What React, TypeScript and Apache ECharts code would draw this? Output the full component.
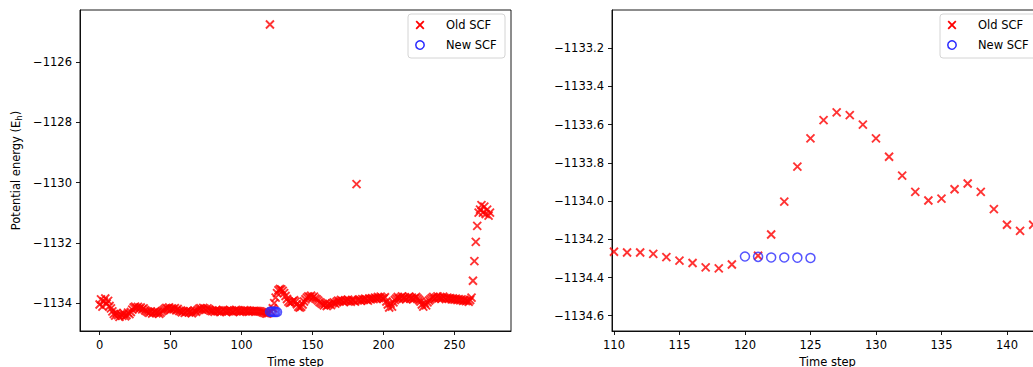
import React, { useEffect, useRef } from "react";
import * as echarts from "echarts";

// Old SCF potential energy, index = time step (0..275)
const oldSCF: number[] = [
  // 0-8
  -1134.05, -1133.88, -1134.12, -1133.95, -1133.85, -1134.02, -1133.93, -1134.10, -1134.18,
  // 9-22
  -1134.28, -1134.36, -1134.42, -1134.33, -1134.40, -1134.46, -1134.38, -1134.43, -1134.35, -1134.44, -1134.40, -1134.32, -1134.37, -1134.30,
  // 23-33
  -1134.22, -1134.15, -1134.12, -1134.17, -1134.13, -1134.19, -1134.15, -1134.21, -1134.18, -1134.24, -1134.27,
  // 34-45
  -1134.30, -1134.33, -1134.28, -1134.35, -1134.31, -1134.29, -1134.34, -1134.30, -1134.36, -1134.32, -1134.27, -1134.24,
  // 46-56
  -1134.20, -1134.16, -1134.19, -1134.15, -1134.22, -1134.18, -1134.21, -1134.17, -1134.24, -1134.20, -1134.26,
  // 57-69
  -1134.28, -1134.31, -1134.27, -1134.33, -1134.29, -1134.25, -1134.32, -1134.28, -1134.34, -1134.30, -1134.26, -1134.29, -1134.24,
  // 70-79
  -1134.20, -1134.17, -1134.22, -1134.16, -1134.19, -1134.23, -1134.18, -1134.21, -1134.25, -1134.27,
  // 80-109
  -1134.26, -1134.29, -1134.24, -1134.28, -1134.25, -1134.30, -1134.27, -1134.23, -1134.26, -1134.29,
  -1134.25, -1134.28, -1134.24, -1134.27, -1134.30, -1134.26, -1134.23, -1134.27, -1134.25, -1134.29,
  -1134.26, -1134.28, -1134.24, -1134.27, -1134.25, -1134.29, -1134.26, -1134.28, -1134.27, -1134.26,
  // 110-119
  -1134.265, -1134.269, -1134.269, -1134.276, -1134.293, -1134.312, -1134.324, -1134.347, -1134.352, -1134.332,
  // 120
  -1124.75,
  // 121-142
  -1134.286, -1134.175, -1134.003, -1133.82, -1133.672, -1133.576, -1133.536, -1133.55, -1133.6, -1133.672, -1133.768,
  -1133.867, -1133.952, -1133.997, -1133.987, -1133.938, -1133.908, -1133.952, -1134.042, -1134.124, -1134.156, -1134.124,
  // 143-155
  -1134.05, -1133.95, -1133.88, -1133.82, -1133.78, -1133.80, -1133.76, -1133.82, -1133.79, -1133.85, -1133.88, -1133.92, -1133.97,
  // 156-166
  -1134.00, -1134.04, -1134.08, -1134.02, -1134.10, -1134.06, -1134.03, -1134.07, -1134.01, -1133.98, -1134.02,
  // 167-180
  -1133.96, -1133.92, -1133.95, -1133.90, -1133.93, -1133.97, -1133.91, -1133.94, -1133.89, -1133.93, -1133.96, -1133.90, -1133.92, -1133.95,
  // 181
  -1130.05,
  // 182-201
  -1133.91, -1133.88, -1133.93, -1133.87, -1133.90, -1133.86, -1133.89, -1133.92, -1133.85, -1133.88,
  -1133.84, -1133.87, -1133.82, -1133.86, -1133.80, -1133.84, -1133.79, -1133.83, -1133.86, -1133.81,
  // 202-209
  -1133.95, -1134.05, -1134.15, -1134.02, -1134.12, -1133.98, -1133.90, -1133.85,
  // 210-226
  -1133.80, -1133.86, -1133.82, -1133.78, -1133.85, -1133.81, -1133.88, -1133.83, -1133.79, -1133.86,
  -1133.82, -1133.87, -1133.84, -1133.80, -1133.85, -1133.90, -1133.95,
  // 227-233
  -1134.05, -1134.12, -1134.00, -1134.08, -1133.98, -1133.92, -1133.88,
  // 234-262
  -1133.84, -1133.80, -1133.86, -1133.82, -1133.78, -1133.84, -1133.80, -1133.85, -1133.79, -1133.83,
  -1133.87, -1133.82, -1133.86, -1133.84, -1133.88, -1133.85, -1133.89, -1133.86, -1133.90, -1133.87,
  -1133.91, -1133.88, -1133.93, -1133.90, -1133.94, -1133.92, -1133.96, -1133.90, -1133.82,
  // 263-275
  -1133.26, -1132.61, -1131.97, -1131.44, -1131.0, -1130.9, -1130.75, -1131.0, -1130.8, -1131.05, -1130.9, -1131.1, -1131.0,
];

const newSteps: number[] = [120, 121, 122, 123, 124, 125];
const newSCF: number[] = [-1134.29, -1134.292, -1134.295, -1134.295, -1134.296, -1134.298];

const leftXTicks: number[] = [0, 50, 100, 150, 200, 250];
const leftYTicks: number[] = [-1134, -1132, -1130, -1128, -1126];
const rightXTicks: number[] = [110, 115, 120, 125, 130, 135, 140];
const rightYTicks: number[] = [-1134.6, -1134.4, -1134.2, -1134.0, -1133.8, -1133.6, -1133.4, -1133.2];

const legendLabels: string[] = ["Old SCF", "New SCF"];

const FONT = "DejaVu Sans";
const FS = 11.5;
const RED = "#ff0000";
const BLUE = "#2a2aff";
const XSYM = "path://M0,0L10,10M0,10L10,0";

const minus = (s: string) => s.replace("-", "\u2212");

function makeXAxis(gridIndex: number, min: number, max: number, ticks: number[]) {
  return {
    type: "value",
    gridIndex,
    min,
    max,
    name: "Time step",
    nameLocation: "middle",
    nameGap: 20,
    nameTextStyle: { fontFamily: FONT, fontSize: FS, color: "#000" },
    axisLine: { show: true, onZero: false, lineStyle: { color: "#000", width: 0.9 } },
    axisTick: { show: true, length: 4, lineStyle: { color: "#000", width: 0.9 }, customValues: ticks },
    axisLabel: {
      margin: 8,
      fontFamily: FONT,
      fontSize: FS,
      color: "#000",
      customValues: ticks,
      formatter: (v: number) => minus(String(v)),
    },
    splitLine: { show: false },
  };
}

function makeYAxis(gridIndex: number, min: number, max: number, ticks: number[], digits: number, name?: string) {
  return {
    type: "value",
    gridIndex,
    min,
    max,
    name: name || "",
    nameLocation: "middle",
    nameGap: 57,
    nameRotate: 90,
    nameTextStyle: {
      fontFamily: FONT,
      fontSize: FS,
      color: "#000",
      rich: {
        n: { fontFamily: FONT, fontSize: FS, color: "#000" },
        s: { fontFamily: FONT, fontSize: 8.5, color: "#000", padding: [5, 0, 0, 0] },
      },
    },
    axisLine: { show: true, onZero: false, lineStyle: { color: "#000", width: 0.9 } },
    axisTick: { show: true, length: 4, lineStyle: { color: "#000", width: 0.9 }, customValues: ticks },
    axisLabel: {
      margin: 8,
      fontFamily: FONT,
      fontSize: FS,
      color: "#000",
      customValues: ticks,
      formatter: (v: number) => minus(v.toFixed(digits)),
    },
    splitLine: { show: false },
  };
}

function legendGraphic(x: number, y: number) {
  const mx = x + 12;
  const r1 = y + 11;
  const r2 = y + 31;
  return {
    type: "group",
    z: 100,
    children: [
      {
        type: "rect",
        shape: { x: x, y: y, width: 97, height: 44, r: 3 },
        style: { fill: "rgba(255,255,255,0.85)", stroke: "#d4d4d4", lineWidth: 1 },
      },
      { type: "line", shape: { x1: mx - 3.8, y1: r1 - 3.8, x2: mx + 3.8, y2: r1 + 3.8 }, style: { stroke: RED, lineWidth: 1.8 } },
      { type: "line", shape: { x1: mx - 3.8, y1: r1 + 3.8, x2: mx + 3.8, y2: r1 - 3.8 }, style: { stroke: RED, lineWidth: 1.8 } },
      { type: "circle", shape: { cx: mx, cy: r2, r: 4.2 }, style: { fill: "none", stroke: BLUE, lineWidth: 1.5 } },
      {
        type: "text",
        x: x + 38,
        y: r1,
        style: { text: legendLabels[0], fontFamily: FONT, fontSize: FS, fill: "#000", verticalAlign: "middle" },
      },
      {
        type: "text",
        x: x + 38,
        y: r2,
        style: { text: legendLabels[1], fontFamily: FONT, fontSize: FS, fill: "#000", verticalAlign: "middle" },
      },
    ],
  };
}

export default function App() {
  const ref = useRef<HTMLDivElement>(null);

  useEffect(() => {
    if (!ref.current) return;
    const chart = echarts.init(ref.current, undefined, { renderer: "svg" });

    const oldData = oldSCF.map((v, i) => [i, v]);
    const newData = newSteps.map((s, i) => [s, newSCF[i]]);

    const oldStyle = {
      type: "scatter",
      symbol: XSYM,
      symbolSize: 8,
      itemStyle: { color: "none", borderColor: RED, borderWidth: 1.9 },
      clip: true,
      z: 2,
    };
    const newStyle = {
      type: "scatter",
      symbol: "circle",
      symbolSize: 9,
      itemStyle: { color: "none", borderColor: BLUE, borderWidth: 1.5 },
      clip: true,
      z: 3,
    };

    chart.setOption({
      animation: false,
      backgroundColor: "#fff",
      grid: [
        { left: 80, width: 431, top: 10, bottom: 36, outerBoundsMode: "none", containLabel: false, show: true, borderColor: "#000", borderWidth: 0.9, backgroundColor: "transparent" },
        { left: 612, width: 431, top: 10, bottom: 36, outerBoundsMode: "none", containLabel: false, show: true, borderColor: "#000", borderWidth: 0.9, backgroundColor: "transparent" },
      ],
      xAxis: [
        makeXAxis(0, -13.8, 289.8, leftXTicks),
        makeXAxis(1, 109.85, 142.75, rightXTicks),
      ],
      yAxis: [
        makeYAxis(0, -1134.93, -1124.27, leftYTicks, 0, "{n|Potential energy (E}{s|h}{n|)}"),
        makeYAxis(1, -1134.68, -1133.0, rightYTicks, 1),
      ],
      series: [
        { ...oldStyle, name: legendLabels[0], xAxisIndex: 0, yAxisIndex: 0, data: oldData },
        { ...newStyle, name: legendLabels[1], xAxisIndex: 0, yAxisIndex: 0, data: newData },
        { ...oldStyle, name: legendLabels[0] + " ", xAxisIndex: 1, yAxisIndex: 1, data: oldData },
        { ...newStyle, name: legendLabels[1] + " ", xAxisIndex: 1, yAxisIndex: 1, data: newData },
      ],
      graphic: [legendGraphic(408, 14), legendGraphic(940, 14)],
    });

    return () => chart.dispose();
  }, []);

  return (
    <div style={{ position: "absolute", left: 0, top: 0, width: 1033, height: 367, overflow: "hidden" }}>
      <div ref={ref} style={{ width: 1060, height: 367 }} />
    </div>
  );
}
